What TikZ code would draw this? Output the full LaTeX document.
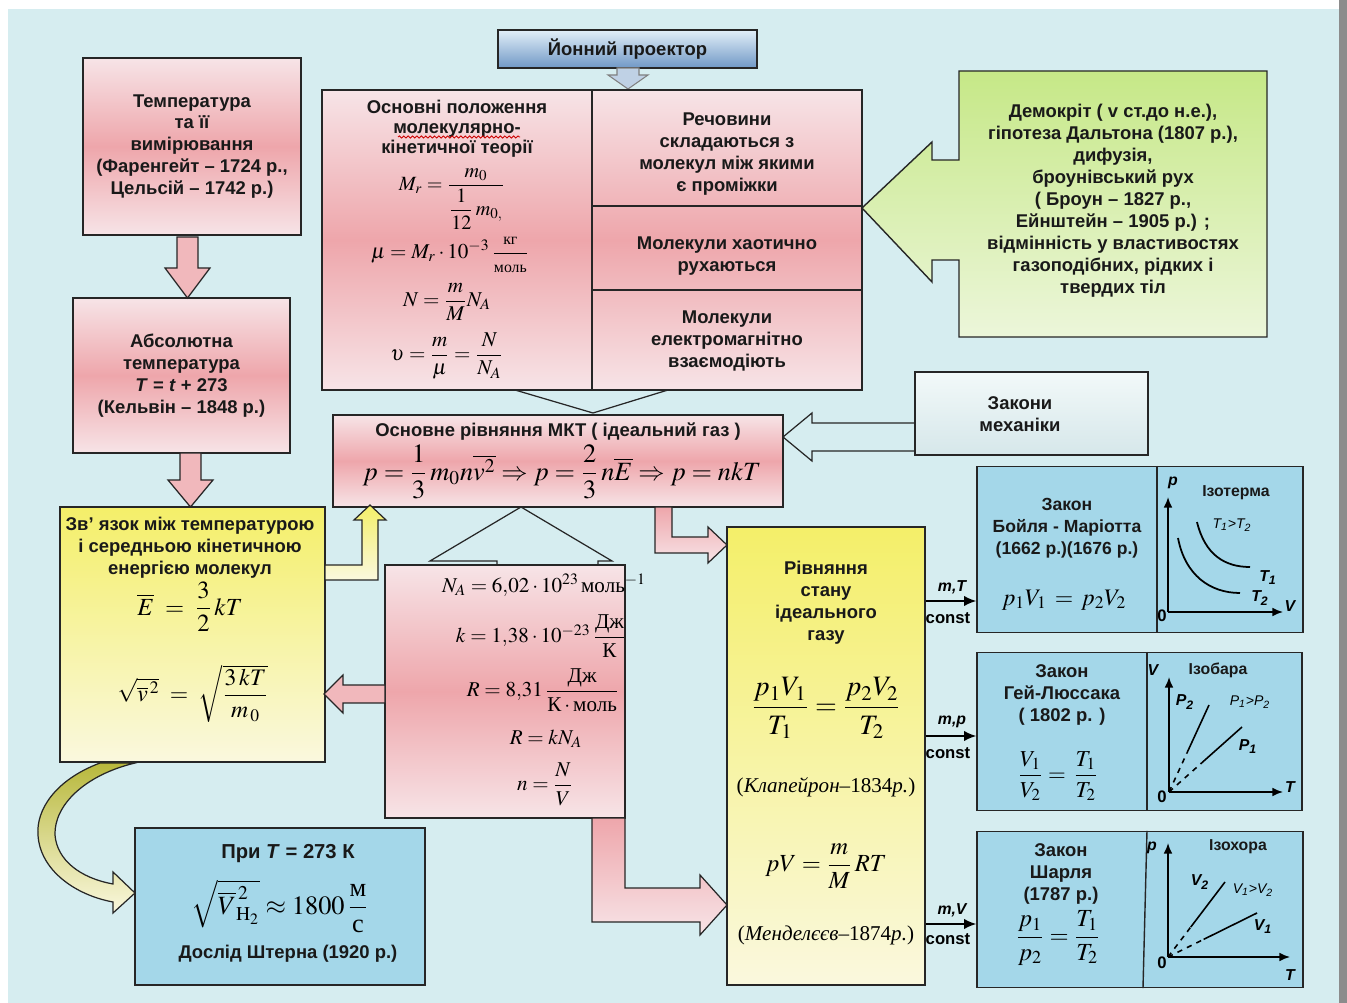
\documentclass[tikz,border=0pt]{standalone}
\usepackage{amsmath}
\usepackage{mathptmx}
\usepackage{fontspec}
\setmainfont{Liberation Serif}
\setsansfont{Liberation Sans}
\usetikzlibrary{positioning,arrows.meta,calc,decorations.pathmorphing}

\definecolor{bgcyan}{RGB}{214,237,240}
\definecolor{pinkL}{RGB}{247,228,231}
\definecolor{pinkM}{RGB}{238,166,171}
\definecolor{yelT}{RGB}{244,239,105}
\definecolor{yelB}{RGB}{250,248,222}
\definecolor{blueF}{RGB}{164,215,233}
\definecolor{greenT}{RGB}{198,232,135}
\definecolor{greenB}{RGB}{236,246,218}
\definecolor{projT}{RGB}{226,239,248}
\definecolor{projB}{RGB}{112,152,198}
\definecolor{mechT}{RGB}{242,249,249}
\definecolor{mechB}{RGB}{214,231,234}
\definecolor{olive}{RGB}{184,184,60}

\tikzset{
  box/.style={draw=black!85, line width=0.8pt, inner sep=0pt},
  boxsz/.style 2 args={minimum width=#1*0.02cm, minimum height=#2*0.02cm},
  pinkbox/.style={box, top color=pinkL, bottom color=pinkL, middle color=pinkM},
  yelbox/.style={box, top color=yelT, bottom color=yelB},
  bluebox/.style={box, fill=blueF},
  lbl/.style={font=\sffamily\bfseries\fontsize{10.5}{12.5}\selectfont, align=center, inner sep=0pt, text=black!90},
  gtitle/.style={font=\sffamily\bfseries\fontsize{9}{10}\selectfont, inner sep=0pt, text=black!90},
  fml/.style={font=\fontsize{#1}{#1}\selectfont, inner sep=0pt},
  fml/.default=12,
  gr/.style={font=\sffamily\bfseries\itshape\fontsize{9}{10}\selectfont, inner sep=0pt},
  small/.style={font=\sffamily\bfseries\fontsize{9.5}{10}\selectfont, inner sep=0pt},
  blockarrow/.style={draw=black!85, line width=0.7pt},
  thinarrow/.style={-{Latex[length=7pt,width=6pt]}, line width=1pt},
  axis/.style={-{Latex[length=6pt,width=5pt]}, line width=1pt},
}

\begin{document}
\begin{tikzpicture}[x=0.02cm, y=-0.02cm]
\useasboundingbox (0,0) rectangle (1347,1003);
\fill[white] (0,0) rectangle (1347,1003);
\fill[bgcyan] (8,9) rectangle (1339,1003);
\fill[black!45] (1339,0) rectangle (1347,1003);

% left column
\node[pinkbox, boxsz={218}{177}, lbl] (temp) at (192,146.5)
  {Температура\\ та її\\ вимірювання\\ (Фаренгейт~– 1724~р.,\\ Цельсій~– 1742~р.)};
\node[pinkbox, boxsz={217}{155}, lbl] (abst) at (181.5,375.5)
  {Абсолютна\\ температура\\ \textit{T} = \textit{t} + 273\\ (Кельвін~– 1848~р.)};
\filldraw[blockarrow, fill=pinkM!80] (177,237) -- (198,237) -- (198,268) -- (210,268)
  -- (187.5,298) -- (165,268) -- (177,268) -- cycle;
\filldraw[blockarrow, fill=pinkM!80] (180,453) -- (201,453) -- (201,480) -- (213,480)
  -- (190.5,507) -- (168,480) -- (180,480) -- cycle;

\node[yelbox, boxsz={265}{255}] (link) at (192.5,634.5) {};
\node[lbl] (linkt) at (190,548) {Зв' язок між температурою\\ і середньою кінетичною\\ енергією молекул};
\node[fml=14] (linkf1) at (190,607) {$\overline{E}\;=\;\dfrac{3}{2}\,kT$};
\node[fml=13.5] (linkf2) at (193,694) {$\sqrt{\overline{v}^{\,2}}\;=\;\sqrt{\dfrac{3\,kT}{m_{\,0}}}$};

% curved arrow down to the Stern box
\draw[blockarrow, top color=olive, bottom color=yelB] (100,763)
  .. controls (55,780) and (36,810) .. (38,835)
  .. controls (40,870) and (75,895) .. (113,902) -- (113,913) -- (135,893) -- (113,872) -- (113,884)
  .. controls (80,878) and (57,860) .. (55,835)
  .. controls (54,805) and (85,775) .. (135,763) -- cycle;

\node[bluebox, boxsz={290}{157}] (pri) at (280,906.5) {};
\node[lbl, font=\sffamily\bfseries\fontsize{11.5}{13}\selectfont] (prit) at (288,854) {При \textit{T} = 273 К};
\node[fml=15] (prif) at (280,906) {$\sqrt{\overline{V}^{\,2}_{\mathrm{H}_2}}\approx 1800\,\dfrac{\textnormal{м}}{\textnormal{с}}$};
\node[lbl] (pris) at (288,954) {Дослід Штерна (1920 р.)};

% top: projector and molecular-kinetic theory
\node[box, boxsz={259}{38}, top color=projT, bottom color=projB, lbl] (proj) at (627.5,49) {Йонний проектор};
\filldraw[draw=black!50, line width=0.6pt, fill=projB!45] (617,68) -- (639,68) -- (639,75) -- (648,75)
  -- (628,89) -- (608,75) -- (617,75) -- cycle;

\node[pinkbox, boxsz={540}{300}] (mkt) at (592,240) {};
\draw[box] (mkt.north) -- (mkt.south);
\draw[box] (mkt.north |- 0,206) -- (mkt.east |- 0,206);
\draw[box] (mkt.north |- 0,290) -- (mkt.east |- 0,290);
\node[lbl, font=\sffamily\bfseries\fontsize{10.5}{11.3}\selectfont] (mktt) at (457,129)
  {Основні положення\\ молекулярно-\\ кінетичної теорії};
\draw[red!80!black, line width=0.5pt, decorate, decoration={snake, amplitude=0.6pt, segment length=2.5pt}]
  (398,137) -- (520,137);
\node[fml=11.5] (mr) at (452,199) {$M_r = \dfrac{m_0}{\dfrac{1}{12}\,m_{0,}}$};
\node[fml] (mu) at (450,255) {$\mu = M_r\cdot10^{-3}\,\dfrac{\textnormal{\fontsize{9}{9}\selectfont кг}}{\textnormal{\fontsize{9}{9}\selectfont моль}}$};
\node[fml] (nn) at (447,302) {$N = \dfrac{m}{M}N_A$};
\node[fml] (nu) at (447,356) {$\upsilon = \dfrac{m}{\mu} = \dfrac{N}{N_A}$};
\node[lbl] (c1) at (727,154) {Речовини\\ складаються з\\ молекул між якими\\ є проміжки};
\node[lbl] (c2) at (727,256) {Молекули хаотично\\ рухаються};
\node[lbl] (c3) at (727,341) {Молекули\\ електромагнітно\\ взаємодіють};

% Democritus callout
\draw[box, top color=greenT, bottom color=greenB] (959,71) -- (1267,71) -- (1267,337) -- (959,337)
  -- (959,260) -- (932,260) -- (932,282) -- (862,208) -- (932,142) -- (932,160) -- (959,160) -- cycle;
\node[lbl] (demo) at (1113,201) {Демокріт ( v ст.до н.е.),\\ гіпотеза Дальтона (1807 р.),\\ дифузія,\\
  броунівський рух\\ ( Броун~– 1827 р.,\\ Ейнштейн~– 1905 р.) ;\\ відмінність у властивостях\\
  газоподібних, рідких і\\ твердих тіл};

% basic equation
\node[pinkbox, boxsz={450}{92}] (eq) at (558,461) {};
\node[lbl] (eqt) at (558,432) {Основне рівняння МКТ ( ідеальний газ )};
\node[fml=15] (eqf) at (562,472) {$p=\dfrac{1}{3}\,m_0n\overline{v^2}\Rightarrow p=\dfrac{2}{3}\,n\overline{E}\Rightarrow p=nkT$};
\draw[blockarrow] (515,390) -- (593,413) -- (668,390);

\node[box, boxsz={233}{83}, top color=mechT, bottom color=mechB] (mech) at (1031.5,413.5) {};
\node[lbl] (mecht) at (1020,414) {Закони\\ механіки};
\draw[blockarrow] (915,423) -- (812,423) -- (812,413) -- (783,437) -- (812,461) -- (812,451) -- (915,451);

% constants
\node[pinkbox, boxsz={240}{253}] (cst) at (505,691.5) {};
\draw[blockarrow] (497,565) -- (497,561) -- (430,561) -- (521,507) -- (612,561) -- (598,561) -- (598,565);
\node[fml] (k1) at (544,585) {$N_A = 6{,}02\cdot10^{23}\,\textnormal{моль}^{-1}$};
\node[fml] (k2) at (541,636) {$k = 1{,}38\cdot10^{-23}\,\dfrac{\textnormal{Дж}}{\textnormal{К}}$};
\node[fml] (k3) at (543,690) {$R = 8{,}31\,\dfrac{\textnormal{Дж}}{\textnormal{К}\cdot\textnormal{моль}}$};
\node[fml] (k4) at (546,739) {$R = kN_A$};
\node[fml] (k5) at (545,784) {$n = \dfrac{N}{V}$};
\filldraw[blockarrow, fill=pinkM!80] (385,685) -- (343,685) -- (343,675) -- (324,694) -- (343,713)
  -- (343,703) -- (385,703) -- cycle;
\draw[blockarrow, top color=yelT, bottom color=yelB] (325,565) -- (362,565) -- (362,520) -- (354,520)
  -- (370,505) -- (386,520) -- (378,520) -- (378,580) -- (325,580) -- cycle;

% equation of state
\node[yelbox, boxsz={198}{458}] (state) at (826,756) {};
\draw[blockarrow, top color=pinkM, bottom color=pinkL] (655,507) -- (672,507) -- (672,537) -- (708,537)
  -- (708,527) -- (727,545) -- (708,563) -- (708,553) -- (655,553) -- cycle;
\draw[blockarrow, top color=pinkM, bottom color=pinkL] (592,818) -- (625,818) -- (625,888) -- (700,888)
  -- (700,875) -- (727,905) -- (700,935) -- (700,922) -- (592,922) -- cycle;
\node[lbl] (statet) at (826,603) {Рівняння\\ стану\\ ідеального\\ газу};
\node[fml=16] (sf1) at (826,708) {$\dfrac{p_1V_1}{T_1}=\dfrac{p_2V_2}{T_2}$};
\node[fml=12] (sf2) at (826,787) {\textnormal{(\textit{Клапейрон}–1834\textit{р.})}};
\node[fml=14] (sf3) at (826,866) {$pV=\dfrac{m}{M}\,RT$};
\node[fml=12] (sf4) at (826,935) {\textnormal{(\textit{Менделєєв}–1874\textit{р.})}};

% gas laws
\node[bluebox, boxsz={326}{166}] (boyle) at (1140,549.5) {};
\node[bluebox, boxsz={325}{158}] (gay) at (1139.5,731.5) {};
\node[bluebox, boxsz={326}{156}] (charl) at (1140,909.5) {};
\draw[box] (1157,0 |- boyle.north) -- (1157,0 |- boyle.south);
\draw[box] (1147,0 |- gay.north) -- (1147,0 |- gay.south);
\draw[box] (1147,0 |- charl.north) -- (1143,0 |- charl.south);

\coordinate (a1) at (boyle.west |- 0,601);
\coordinate (a2) at (gay.west |- 0,736);
\coordinate (a3) at (charl.west |- 0,924);
\draw[thinarrow] (state.east |- a1) -- (a1);
\draw[thinarrow] (state.east |- a2) -- (a2);
\draw[thinarrow] (state.east |- a3) -- (a3);
\node[gr] (a1t) at (952,587) {m,T};
\node[small] (a1c) at (948,618) {const};
\node[gr] (a2t) at (952,722) {m,p};
\node[small] (a2c) at (948,753) {const};
\node[gr] (a3t) at (952,910) {m,V};
\node[small] (a3c) at (948,939) {const};

\node[lbl, font=\sffamily\bfseries\fontsize{10}{12.5}\selectfont] (boylet) at (1067,528) {Закон\\ Бойля - Маріотта\\ (1662 р.)(1676 р.)};
\node[fml=13.5] (boylef) at (1064,600) {$p_1V_1\,=\,p_2V_2$};
\node[lbl] (gayt) at (1062,695) {Закон\\ Гей-Люссака\\ ( 1802 р. )};
\node[fml=13] (gayf) at (1058,776) {$\dfrac{V_1}{V_2}=\,\dfrac{T_1}{T_2}$};
\node[lbl] (charlt) at (1061,874) {Закон\\ Шарля\\ (1787 р.)};
\node[fml=14] (charlf) at (1058,938) {$\dfrac{p_1}{p_2}=\dfrac{T_1}{T_2}$};

% isotherm
\coordinate (bo) at (1168,612);
\draw[axis] (bo) -- (1168,497);
\draw[axis] (bo) -- (1283,612);
\draw[line width=1pt] (1197,522) .. controls (1205,555) and (1225,567) .. (1250,567);
\draw[line width=1pt] (1178,538) .. controls (1185,575) and (1210,593) .. (1240,593);
\node[gr] (bp) at (1173,483) {p};
\node[gr] (bv) at (1290,606) {V};
\node[small] (b0) at (1162,616) {0};
\node[gtitle] (biso) at (1236,493) {Ізотерма};
\node[gr, font=\sffamily\itshape\fontsize{8}{9}\selectfont] (bt) at (1232,525) {T\textsubscript{1}>T\textsubscript{2}};
\node[gr] (bt1) at (1268,578) {T\textsubscript{1}};
\node[gr] (bt2) at (1260,598) {T\textsubscript{2}};

% isobar
\coordinate (go) at (1169,792);
\coordinate (gp2) at (1209,705);
\coordinate (gp1) at (1242,727);
\draw[axis] (go) -- (1169,677);
\draw[axis] (go) -- (1283,792);
\draw[dashed, line width=0.9pt] (go) -- ($(go)!0.45!(gp2)$);
\draw[line width=0.9pt] ($(go)!0.45!(gp2)$) -- (gp2);
\draw[dashed, line width=0.9pt] (go) -- ($(go)!0.45!(gp1)$);
\draw[line width=0.9pt] ($(go)!0.45!(gp1)$) -- (gp1);
\node[gr] (gv) at (1153,670) {V};
\node[gtitle] (giso) at (1218,670) {Ізобара};
\node[gr] (gl2) at (1185,702) {P\textsubscript{2}};
\node[gr, font=\sffamily\itshape\fontsize{8}{9}\selectfont] (gpp) at (1250,702) {P\textsubscript{1}>P\textsubscript{2}};
\node[gr] (gl1) at (1248,747) {P\textsubscript{1}};
\node[gr] (gt) at (1290,787) {T};
\node[small] (g0) at (1162,797) {0};

% isochore
\coordinate (co) at (1168,957);
\coordinate (cv2) at (1225,882);
\coordinate (cv1) at (1257,913);
\draw[axis] (co) -- (1168,843);
\draw[axis] (co) -- (1290,957);
\draw[dashed, line width=0.9pt] (co) -- ($(co)!0.4!(cv2)$);
\draw[line width=0.9pt] ($(co)!0.4!(cv2)$) -- (cv2);
\draw[dashed, line width=0.9pt] (co) -- ($(co)!0.4!(cv1)$);
\draw[line width=0.9pt] ($(co)!0.4!(cv1)$) -- (cv1);
\node[gr] (cp) at (1152,848) {p};
\node[gtitle] (ciso) at (1238,847) {Ізохора};
\node[gr] (cl2) at (1200,882) {V\textsubscript{2}};
\node[gr, font=\sffamily\itshape\fontsize{8}{9}\selectfont] (cvv) at (1253,890) {V\textsubscript{1}>V\textsubscript{2}};
\node[gr] (cl1) at (1263,927) {V\textsubscript{1}};
\node[gr] (ct) at (1290,975) {T};
\node[small] (c0) at (1162,963) {0};
\end{tikzpicture}
\end{document}
